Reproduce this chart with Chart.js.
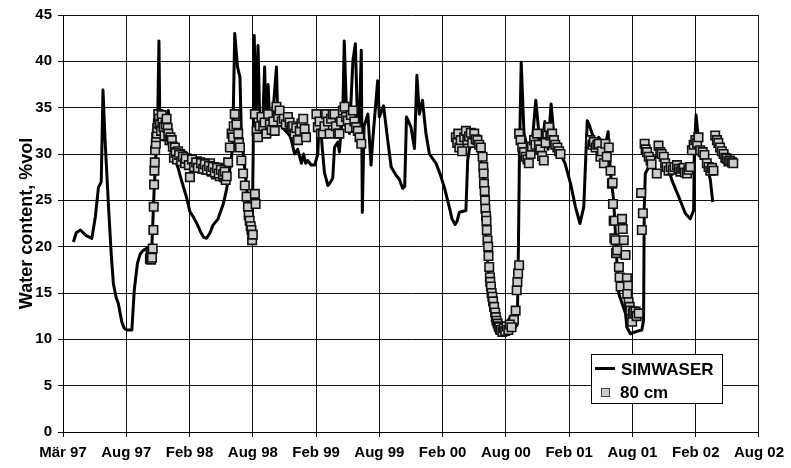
<!DOCTYPE html>
<html>
<head>
<meta charset="utf-8">
<script src="https://cdn.jsdelivr.net/npm/chart.js@4.4.1/dist/chart.umd.min.js"></script>
<style>
  body { margin: 0; background: #fff; }
  #wrap { width: 791px; height: 468px; }
</style>
</head>
<body>
<div id="wrap"><canvas id="waterChart" width="791" height="468"></canvas></div>
<script>
// x values are days since 1 March 1997, axis ticks every 182 days
const tickLabels = ['Mär 97', 'Aug 97', 'Feb 98', 'Aug 98', 'Feb 99', 'Aug 99',
  'Feb 00', 'Aug 00', 'Feb 01', 'Aug 01', 'Feb 02', 'Aug 02'];

const simDays = [30, 38, 50, 67, 83, 93, 102, 110, 115, 121, 131, 139, 145, 153, 159, 169, 176, 184, 198, 205,
  214, 222, 231, 250, 256, 262, 268, 272, 276, 279, 288, 293, 303, 308, 319, 331, 342, 354, 365, 375,
  385, 397, 405, 413, 423, 431, 446, 461, 470, 475, 485, 488, 494, 502, 509, 513, 520, 529, 537, 544,
  547, 550, 555, 561, 566, 575, 580, 584, 590, 595, 603, 614, 618, 629, 640, 652, 657, 666, 675, 686,
  692, 698, 704, 714, 724, 733, 738, 745, 752, 762, 770, 776, 781, 791, 795, 805, 809, 815, 824, 834,
  841, 848, 853, 858, 861, 866, 877, 886, 891, 905, 910, 922, 934, 944, 958, 967, 977, 983, 988, 1001,
  1011, 1018, 1025, 1034, 1044, 1054, 1073, 1085, 1097, 1111, 1119, 1128, 1134, 1140, 1148, 1159, 1164, 1169, 1180, 1191,
  1202, 1211, 1216, 1226, 1233, 1240, 1249, 1259, 1271, 1288, 1297, 1307, 1310, 1313, 1318, 1326, 1334, 1343, 1349, 1360,
  1369, 1378, 1386, 1395, 1404, 1412, 1421, 1431, 1444, 1460, 1474, 1487, 1498, 1508, 1515, 1522, 1533, 1541, 1553, 1558,
  1568, 1575, 1584, 1589, 1594, 1599, 1608, 1618, 1622, 1632, 1646, 1665, 1670, 1672, 1675, 1685, 1699, 1714, 1733, 1751,
  1771, 1790, 1804, 1814, 1816, 1821, 1828, 1843, 1854, 1862, 1869];
const simWater = [20.5, 21.5, 21.8, 21.2, 20.9, 23.2, 26.4, 27.0, 36.9, 31.5, 24.3, 19.0, 16.0, 14.5, 13.9, 11.9, 11.2, 11.0, 11.0, 15.3,
  18.2, 19.2, 19.6, 20.0, 20.3, 26.0, 30.5, 33.0, 42.2, 31.8, 31.5, 32.5, 34.7, 31.5, 29.8, 28.5, 27.0, 25.5, 23.8, 23.2,
  22.5, 21.5, 21.0, 20.9, 21.5, 22.3, 23.0, 24.6, 26.1, 27.2, 29.7, 31.0, 43.0, 39.4, 38.3, 32.2, 29.5, 26.0, 23.0, 21.0,
  30.0, 42.8, 34.0, 41.7, 33.5, 33.8, 39.4, 33.0, 37.5, 33.0, 34.0, 39.4, 33.5, 33.0, 32.5, 32.0, 31.5, 30.0, 30.5, 29.0,
  30.0, 29.0, 29.3, 28.8, 28.8, 30.0, 34.7, 31.0, 28.0, 26.6, 27.0, 27.4, 30.7, 31.3, 30.2, 34.7, 42.2, 35.0, 32.2, 40.1,
  41.9, 32.2, 34.0, 41.2, 23.7, 33.0, 34.3, 28.8, 31.5, 37.9, 34.0, 35.2, 31.5, 28.6, 27.7, 27.3, 26.3, 26.5, 34.0, 32.9,
  30.6, 38.5, 34.3, 35.8, 32.2, 30.0, 29.0, 27.8, 26.4, 24.3, 23.0, 22.4, 22.8, 23.7, 23.8, 23.9, 29.3, 30.5, 31.5, 30.7,
  29.5, 27.2, 21.4, 16.0, 13.5, 12.1, 11.2, 10.6, 10.7, 11.0, 11.4, 12.1, 20.0, 30.0, 39.9, 32.2, 31.0, 30.5, 31.0, 35.8,
  32.2, 31.0, 33.5, 30.5, 35.4, 32.0, 31.0, 30.0, 29.0, 26.8, 24.3, 22.5, 24.3, 33.6, 33.0, 32.2, 31.0, 31.8, 31.0, 30.5,
  32.4, 27.9, 25.0, 21.4, 17.8, 14.9, 13.9, 12.8, 11.3, 10.6, 10.8, 11.0, 12.1, 24.3, 27.9, 28.6, 29.5, 30.0, 29.7, 27.2,
  25.4, 23.6, 23.0, 23.9, 30.4, 34.2, 31.5, 30.0, 28.5, 27.2, 24.8];

const obsDays = [250, 252, 253, 255, 256, 258, 260, 261, 262, 263, 264, 265, 267, 268, 270, 271, 273, 274, 276, 279,
  282, 284, 286, 289, 292, 295, 298, 301, 303, 306, 309, 313, 316, 322, 326, 331, 337, 342, 348, 356,
  359, 365, 368, 374, 380, 385, 391, 394, 400, 405, 411, 417, 423, 428, 434, 440, 446, 451, 457, 463,
  468, 475, 480, 485, 489, 491, 494, 499, 504, 506, 509, 513, 518, 523, 528, 532, 534, 537, 540, 542,
  544, 546, 552, 554,
  319, 324, 328, 334, 340, 345, 351, 353, 362, 371, 377, 383, 388, 397, 403, 408, 414, 420, 426, 431,
  437, 443, 448, 454, 460, 465, 471,
  552, 557, 561, 566, 571, 576, 580, 585, 590, 595, 600, 605, 609, 614, 619, 623, 629, 635, 641, 647,
  652, 657, 662, 666, 671, 676, 681, 686, 691, 695, 699,
  729, 733, 738, 742, 748, 752, 757, 762, 767, 771, 776, 781, 785, 791, 795, 800, 805, 810, 814, 819,
  824, 828, 834, 838, 843, 848, 853, 858,
  1130, 1134, 1137, 1140, 1144, 1148, 1154, 1159, 1163, 1168, 1173, 1177, 1183, 1187, 1192, 1197, 1202, 1207, 1209, 1210,
  1211, 1213, 1214, 1215, 1217, 1218, 1219, 1221, 1223, 1224, 1226, 1228, 1229, 1231, 1233, 1235, 1237, 1240, 1243, 1245,
  1247, 1250, 1253, 1257, 1262, 1266, 1270, 1274, 1279, 1283, 1288, 1292, 1295, 1297, 1302, 1305, 1307, 1309, 1312,
  1255, 1259, 1264, 1268, 1272, 1276, 1281, 1285, 1290,
  1312, 1316, 1321, 1326, 1331, 1336, 1340, 1345, 1349, 1355, 1359, 1364, 1369, 1373, 1378, 1383, 1388, 1393, 1398, 1402,
  1407, 1412, 1416, 1422, 1427, 1431,
  1517, 1523, 1527, 1532, 1537, 1541, 1546, 1550, 1556, 1560, 1564, 1570, 1575, 1579, 1581, 1582, 1584, 1586, 1587, 1589,
  1591, 1594, 1599, 1601, 1604, 1608, 1610, 1613, 1618, 1622, 1625, 1623, 1627, 1630, 1632, 1637, 1639, 1642, 1647, 1650,
  1656, 1663, 1665, 1668,
  1673, 1676, 1680, 1685, 1690, 1693, 1708, 1713, 1718, 1722, 1728, 1732, 1736, 1742, 1748, 1754, 1759, 1766, 1771, 1776,
  1781, 1785, 1789, 1795, 1799, 1804,
  1809, 1814, 1819, 1824, 1828, 1833, 1840, 1845, 1852, 1857, 1862, 1867, 1871,
  1876, 1881, 1885, 1890, 1895, 1900, 1905, 1909, 1914, 1919, 1924, 1928];
const obsWater = [18.7, 19.2, 18.6, 19.0, 18.8, 19.8, 21.8, 24.3, 26.7, 28.2, 29.1, 30.4, 31.1, 31.8, 32.2, 32.8, 33.3, 34.3, 33.8, 33.2,
  32.5, 34.2, 33.4, 32.9, 32.0, 33.2, 33.8, 32.8, 32.2, 31.5, 31.8, 31.5, 30.8, 30.7, 30.2, 30.3, 30.0, 29.8, 29.6, 29.5,
  29.2, 27.5, 29.3, 29.0, 28.7, 29.2, 28.5, 29.1, 28.4, 29.0, 28.3, 28.9, 29.0, 28.1, 28.6, 27.8, 28.5, 27.6, 28.2, 27.5,
  27.2, 29.1, 30.7, 32.2, 31.8, 33.0, 34.3, 33.2, 32.2, 31.2, 30.7, 29.3, 27.9, 26.6, 25.4, 24.3, 23.4, 22.8, 22.2, 21.8,
  20.7, 21.3, 25.7, 24.6,
  29.6, 30.1, 29.4, 29.9, 29.2, 29.7, 29.0, 29.5, 28.8, 29.4, 28.6, 29.1, 28.5, 29.0, 28.4, 28.9, 28.3, 28.7, 28.2, 28.6,
  28.0, 28.5, 27.9, 28.3, 27.8, 28.1, 27.6,
  34.3, 32.5, 31.8, 33.0, 34.0, 33.0, 33.4, 32.2, 34.3, 33.2, 32.6, 33.5, 32.5, 35.1, 34.0, 34.7, 33.5, 33.8, 33.2, 34.0,
  33.4, 32.9, 33.0, 32.2, 32.8, 31.5, 32.5, 33.3, 33.8, 32.7, 31.8,
  34.3, 32.9, 33.5, 32.2, 32.2, 33.0, 34.3, 33.5, 32.2, 33.8, 34.3, 34.3, 33.0, 32.2, 32.2, 33.5, 34.7, 35.1, 34.0, 33.6,
  32.8, 34.2, 34.7, 33.5, 32.9, 32.5, 31.8, 31.1,
  31.8, 31.2, 32.2, 30.7, 31.5, 30.3, 31.8, 32.5, 31.5, 31.9, 32.3, 31.2, 32.2, 31.6, 31.5, 31.0, 30.7, 29.7, 28.6, 27.9,
  26.8, 26.0, 25.0, 24.1, 23.3, 22.8, 21.8, 20.7, 20.0, 19.0, 17.8, 16.7, 16.2, 15.7, 15.0, 14.6, 14.1, 13.5, 12.9, 12.4,
  12.0, 11.7, 11.4, 11.1, 11.0, 10.9, 11.1, 11.0, 11.2, 11.3, 11.5, 11.7, 11.9, 12.1, 13.1, 15.3, 16.2, 17.1, 18.0,
  11.3, 11.0, 10.8, 11.2, 10.9, 11.4, 11.0, 11.6, 11.3,
  32.2, 31.5, 30.7, 30.2, 29.7, 29.4, 29.0, 30.0, 30.8, 31.5, 31.0, 32.2, 31.0, 30.5, 29.8, 29.3, 31.2, 32.2, 32.9, 32.0,
  32.2, 31.5, 31.0, 30.7, 30.3, 30.0,
  31.5, 31.0, 31.3, 30.7, 31.0, 31.1, 29.7, 30.3, 29.0, 31.1, 29.7, 30.7, 28.2, 26.8, 26.9, 24.6, 22.8, 20.9, 22.8, 20.7,
  19.3, 19.6, 17.8, 16.7, 15.7, 23.0, 21.9, 20.7, 19.1, 16.6, 15.8, 14.9, 14.0, 13.5, 13.1, 11.9, 12.8, 13.0, 13.0, 12.5,
  12.8, 25.8, 21.8, 23.6,
  31.1, 30.5, 30.2, 29.7, 29.3, 28.9, 27.9, 30.9, 30.2, 30.0, 29.7, 29.0, 28.6, 28.2, 28.6, 28.3, 28.6, 28.8, 28.4, 28.1,
  28.4, 28.5, 28.0, 27.9, 28.3, 28.6,
  30.4, 31.0, 31.5, 31.2, 31.8, 30.4, 30.2, 29.9, 29.0, 28.6, 28.2, 28.5, 28.2,
  32.0, 31.5, 31.2, 30.7, 30.3, 30.0, 29.6, 29.5, 29.2, 29.3, 29.1, 29.0];

const FONT = '"Liberation Sans", Arial, sans-serif';

// legend drawn as a framed box inside the plot, like the original
const boxLegend = {
  id: 'boxLegend',
  afterDatasetsDraw(chart) {
    const ctx = chart.ctx;
    const sim = chart.data.datasets[0];
    const obs = chart.data.datasets[1];
    ctx.save();
    ctx.fillStyle = '#fff';
    ctx.fillRect(591, 354, 131, 49);
    ctx.strokeStyle = '#000';
    ctx.lineWidth = 1;
    ctx.strokeRect(591.5, 354.5, 131, 49);

    ctx.beginPath();
    ctx.moveTo(595, 368.5);
    ctx.lineTo(615, 368.5);
    ctx.lineWidth = sim.borderWidth;
    ctx.strokeStyle = sim.borderColor;
    ctx.stroke();

    ctx.fillStyle = obs.backgroundColor;
    ctx.fillRect(601, 388, 9, 9);
    ctx.lineWidth = 1;
    ctx.strokeStyle = '#444';
    ctx.strokeRect(601.5, 388.5, 8, 8);

    ctx.fillStyle = '#000';
    ctx.font = 'bold 17px ' + FONT;
    ctx.textBaseline = 'alphabetic';
    ctx.fillText(sim.label, 621, 374.5);
    ctx.fillText(obs.label, 620, 398);
    ctx.restore();
  }
};

new Chart(document.getElementById('waterChart').getContext('2d'), {
  type: 'scatter',
  data: {
    datasets: [{
      label: 'SIMWASER',
      data: simDays.map((d, i) => ({ x: d, y: simWater[i] })),
      showLine: true,
      borderColor: '#000',
      borderWidth: 3,
      borderJoinStyle: 'round',
      pointRadius: 0,
      tension: 0,
      order: 1
    }, {
      label: '80 cm',
      data: obsDays.map((d, i) => ({ x: d, y: obsWater[i] })),
      showLine: false,
      pointStyle: 'rect',
      pointRadius: 6,
      backgroundColor: '#cbcbcb',
      borderColor: '#111',
      borderWidth: 1.6,
      order: 0
    }]
  },
  options: {
    responsive: false,
    animation: false,
    layout: { padding: { top: 15, right: 30, left: 0, bottom: 0 } },
    plugins: {
      legend: { display: false },
      tooltip: { enabled: false }
    },
    scales: {
      x: {
        type: 'linear',
        min: 0,
        max: 2002,
        afterFit: (scale) => { scale.height = 36; },
        afterBuildTicks: (scale) => {
          scale.ticks = tickLabels.map((t, i) => ({ value: i * 182 }));
        },
        ticks: {
          autoSkip: false,
          maxRotation: 0,
          padding: 7,
          color: '#000',
          font: { family: FONT, size: 15, weight: 'bold' },
          callback: (v, i) => tickLabels[i]
        },
        grid: { color: '#111', lineWidth: 1, tickLength: 5 },
        border: { color: '#000', width: 1 }
      },
      y: {
        min: 0,
        max: 45,
        afterFit: (scale) => { scale.width = 63; },
        ticks: {
          stepSize: 5,
          padding: 6,
          color: '#000',
          font: { family: FONT, size: 15, weight: 'bold' }
        },
        grid: { color: '#111', lineWidth: 1, tickLength: 5 },
        border: { color: '#000', width: 1 },
        title: {
          display: true,
          text: 'Water content, %vol',
          color: '#000',
          padding: { top: 16, bottom: 0 },
          font: { family: FONT, size: 18, weight: 'bold' }
        }
      }
    }
  },
  plugins: [boxLegend]
});
</script>
</body>
</html>
